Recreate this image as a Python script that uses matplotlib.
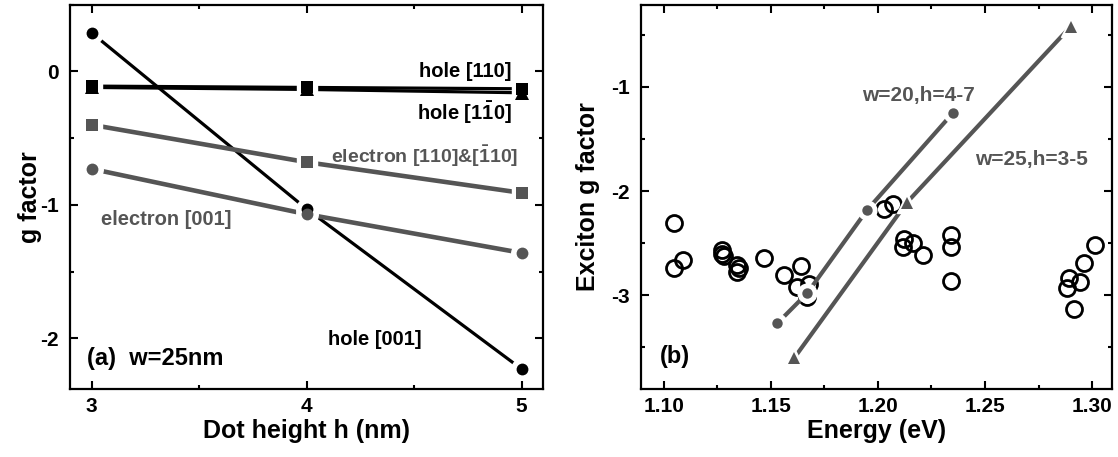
import matplotlib
matplotlib.use('Agg')
import matplotlib.pyplot as plt
from matplotlib.ticker import MultipleLocator

plt.rcParams['font.family'] = ['Liberation Sans', 'DejaVu Sans']
plt.rcParams['font.weight'] = 'bold'
plt.rcParams['axes.labelweight'] = 'bold'
plt.rcParams['axes.unicode_minus'] = False
plt.rcParams['mathtext.fontset'] = 'custom'
plt.rcParams['mathtext.rm'] = 'Liberation Sans:bold'
plt.rcParams['mathtext.bf'] = 'Liberation Sans:bold'
plt.rcParams['mathtext.it'] = 'Liberation Sans:bold'

GRAY = '#555555'

# (a) single-particle g factors vs dot height, w = 25 nm
height = [3, 4, 5]
hole_001 = [0.29, -1.03, -2.23]
hole_110 = [-0.11, -0.12, -0.13]
hole_1m10 = [-0.12, -0.135, -0.16]
elec_110 = [-0.40, -0.68, -0.91]
elec_001 = [-0.73, -1.07, -1.36]

# (b) measured exciton g factors
exp_energy = [1.105, 1.105, 1.109, 1.127, 1.127, 1.128, 1.134, 1.134, 1.135,
              1.147, 1.156, 1.164, 1.162, 1.168, 1.167,
              1.203, 1.207, 1.212, 1.2115, 1.2165, 1.221,
              1.234, 1.234, 1.234,
              1.289, 1.2885, 1.2915, 1.2945, 1.296, 1.3015]
exp_g = [-2.31, -2.74, -2.66, -2.57, -2.60, -2.62, -2.71, -2.78, -2.74,
         -2.64, -2.81, -2.72, -2.92, -2.89, -3.02,
         -2.17, -2.12, -2.46, -2.54, -2.50, -2.61,
         -2.42, -2.54, -2.86,
         -2.83, -2.93, -3.13, -2.87, -2.69, -2.52]

# calculated exciton g factors
w20_energy = [1.153, 1.167, 1.195, 1.235]
w20_g = [-3.27, -2.98, -2.18, -1.25]
w25_energy = [1.161, 1.2135, 1.290]
w25_g = [-3.60, -2.11, -0.42]


def series(ax, x, y, color, marker, ms, lw, gap=7):
    # line, white halo around markers so the line stops short, then the marker
    ax.plot(x, y, '-', color=color, lw=lw, zorder=2, solid_capstyle='butt')
    ax.plot(x, y, ls='none', marker=marker, ms=ms + gap, color='white',
            mec='white', zorder=3)
    ax.plot(x, y, ls='none', marker=marker, ms=ms, color=color, mec=color,
            mew=0, zorder=4)


def style(ax):
    for s in ax.spines.values():
        s.set_linewidth(1.6)
    ax.tick_params(which='both', direction='in', top=True, right=True,
                   width=1.5, labelsize=15)
    ax.tick_params(which='major', length=6, pad=6)
    ax.tick_params(which='minor', length=3)
    ax.tick_params(axis='y', pad=8)


fig = plt.figure(figsize=(11.18, 4.57), dpi=100)
W, H = 1118, 457
axa = fig.add_axes([70 / W, (H - 389) / H, (543 - 70) / W, (389 - 4.7) / H])
axb = fig.add_axes([641 / W, (H - 389) / H, (1112 - 641) / W, (389 - 4.7) / H])

# ---- panel (a)
series(axa, height, hole_001, 'black', 'o', 8.5, 2.3)
series(axa, height, hole_1m10, 'black', '^', 9.5, 2.3)
series(axa, height, hole_110, 'black', 's', 8, 2.3)
series(axa, height, elec_110, GRAY, 's', 8, 3.3)
series(axa, height, elec_001, GRAY, 'o', 8.5, 3.3)

axa.set_xlim(2.9, 5.1)
axa.set_ylim(-2.38, 0.5)
axa.xaxis.set_major_locator(MultipleLocator(1))
axa.xaxis.set_minor_locator(MultipleLocator(0.5))
axa.yaxis.set_major_locator(MultipleLocator(1))
axa.yaxis.set_minor_locator(MultipleLocator(0.5))
style(axa)
axa.set_xlabel('Dot height h (nm)', fontsize=18, labelpad=2)
axa.set_ylabel('g factor', fontsize=18, labelpad=-1)

axa.text(4.955, 0.0, 'hole [110]', fontsize=14.5, ha='right', va='center')
axa.text(4.955, -0.31, r'hole [1$\bar{1}$0]', fontsize=14.5, ha='right',
         va='center')
axa.text(4.985, -0.64, r'electron [110]&[$\bar{1}$10]', fontsize=14,
         ha='right', va='center', color=GRAY)
axa.text(3.045, -1.11, 'electron [001]', fontsize=14.5, ha='left',
         va='center', color=GRAY)
axa.text(4.10, -2.01, 'hole [001]', fontsize=14.5, ha='left', va='center')
axa.text(2.98, -2.15, '(a)  w=25nm', fontsize=17, ha='left', va='center')

# ---- panel (b)
axb.plot(exp_energy, exp_g, ls='none', marker='o', ms=11.5, mfc='none',
         mec='black', mew=2, zorder=1.5)
series(axb, w20_energy, w20_g, GRAY, 'o', 7.5, 3.0, gap=6)
series(axb, w25_energy, w25_g, GRAY, '^', 9, 3.0, gap=6)

axb.set_xlim(1.0894, 1.3093)
axb.set_ylim(-3.9, -0.21)
axb.xaxis.set_major_locator(MultipleLocator(0.05))
axb.xaxis.set_minor_locator(MultipleLocator(0.025))
axb.yaxis.set_major_locator(MultipleLocator(1))
axb.yaxis.set_minor_locator(MultipleLocator(0.5))
axb.xaxis.set_major_formatter(plt.FormatStrFormatter('%.2f'))
style(axb)
axb.set_xlabel('Energy (eV)', fontsize=18, labelpad=2)
axb.set_ylabel('Exciton g factor', fontsize=18, labelpad=8)

axb.text(1.219, -1.08, 'w=20,h=4-7', fontsize=15, ha='center', va='center',
         color=GRAY)
axb.text(1.2715, -1.70, 'w=25,h=3-5', fontsize=15, ha='center', va='center',
         color=GRAY)
axb.text(1.098, -3.59, '(b)', fontsize=17, ha='left', va='center')

fig.savefig('out.png', dpi=100)
